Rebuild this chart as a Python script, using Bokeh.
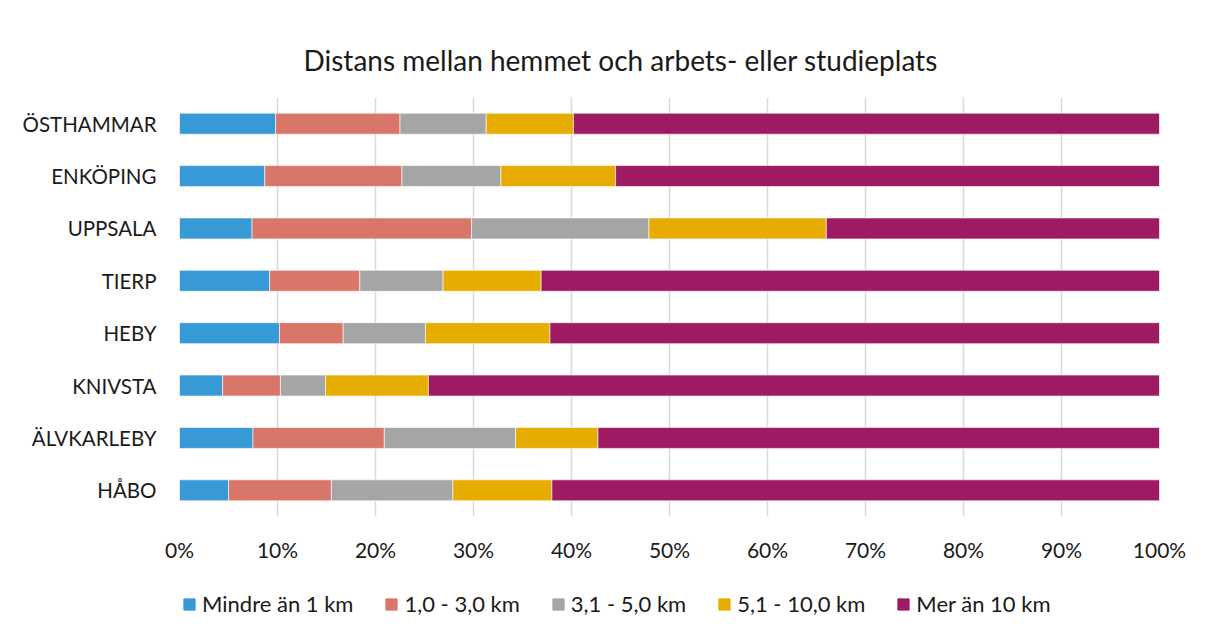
from bokeh.plotting import figure
from bokeh.layouts import column
from bokeh.models import FactorRange, Range1d, PrintfTickFormatter, Legend, LegendItem, Title, FixedTicker
from bokeh.embed import file_html
from bokeh.resources import INLINE

categories = ["ÖSTHAMMAR", "ENKÖPING", "UPPSALA", "TIERP", "HEBY", "KNIVSTA", "ÄLVKARLEBY", "HÅBO"]
series = ["Mindre än 1 km", "1,0 - 3,0 km", "3,1 - 5,0 km", "5,1 - 10,0 km", "Mer än 10 km"]
mindre_1 = [9.8, 8.7, 7.4, 9.2, 10.2, 4.4, 7.5, 5.0]
km_1_3 = [12.7, 14.0, 22.4, 9.2, 6.5, 5.9, 13.4, 10.5]
km_3_5 = [8.8, 10.1, 18.1, 8.5, 8.4, 4.6, 13.4, 12.4]
km_5_10 = [8.9, 11.7, 18.1, 10.0, 12.7, 10.5, 8.4, 10.1]
mer_10 = [59.8, 55.5, 34.0, 63.1, 62.2, 74.6, 57.3, 62.0]
colors = ["#3799d6", "#d9766a", "#a5a5a5", "#e6ad00", "#9e1a62"]

FONT = "Lato"
W = 1212

data = {"cat": categories, "s0": mindre_1, "s1": km_1_3, "s2": km_3_5, "s3": km_5_10, "s4": mer_10}
keys = ["s0", "s1", "s2", "s3", "s4"]

p = figure(width=W, height=575, output_backend="svg", toolbar_location=None,
           y_range=FactorRange(factors=list(reversed(categories)), range_padding=0),
           x_range=Range1d(0, 100),
           min_border_left=179, min_border_right=W - 1159, min_border_top=97, min_border_bottom=59)

renderers = p.hbar_stack(keys, y="cat", height=0.4, color=colors, source=data,
                         line_color="white", line_width=0.6)

p.title = Title(text="Distans mellan hemmet och arbets- eller studieplats", align="left",
                offset=124, text_font=FONT, text_font_size="28px", text_font_style="normal",
                text_color="#1a1a1a", standoff=41)

p.xaxis.ticker = FixedTicker(ticks=list(range(0, 101, 10)))
p.xaxis.formatter = PrintfTickFormatter(format="%d%%")
p.xaxis.axis_line_color = None
p.xaxis.major_tick_line_color = None
p.xaxis.minor_tick_line_color = None
p.xaxis.major_label_standoff = 14
p.xaxis.major_label_text_font = FONT
p.xaxis.major_label_text_font_size = "21px"
p.xaxis.major_label_text_color = "#1a1a1a"

p.yaxis.axis_line_color = None
p.yaxis.major_tick_line_color = None
p.yaxis.minor_tick_line_color = None
p.yaxis.major_label_standoff = 17
p.yaxis.major_label_text_font = FONT
p.yaxis.major_label_text_font_size = "20.5px"
p.yaxis.major_label_text_color = "#1a1a1a"

p.ygrid.grid_line_color = None
p.xgrid.grid_line_color = "#d9d9d9"
p.xgrid.grid_line_width = 1.5
p.outline_line_color = None

# legend panel (its frame is aligned with the main plot's frame by the column layout)
lg = figure(width=W, height=62, output_backend="svg", toolbar_location=None,
            x_range=Range1d(0, 1), y_range=Range1d(0, 1), min_border=0)
lg.axis.visible = False
lg.grid.visible = False
lg.outline_line_color = None
items = []
for s, c in zip(series, colors):
    # zero-width swatch carrier placed outside the visible range
    r = lg.hbar(y=[-1], left=[0], right=[0], height=0.4, color=c)
    items.append(LegendItem(label=s, renderers=[r]))
legend = Legend(items=items, orientation="horizontal", location=(3, 20),
                label_text_font=FONT, label_text_font_size="22px", label_text_color="#1a1a1a",
                glyph_width=14, glyph_height=14, spacing=31, label_standoff=6,
                border_line_color=None, background_fill_alpha=0, padding=0, margin=0)
lg.add_layout(legend, "center")

layout = column(p, lg, spacing=0)
open("out.html", "w").write(file_html(layout, INLINE))
